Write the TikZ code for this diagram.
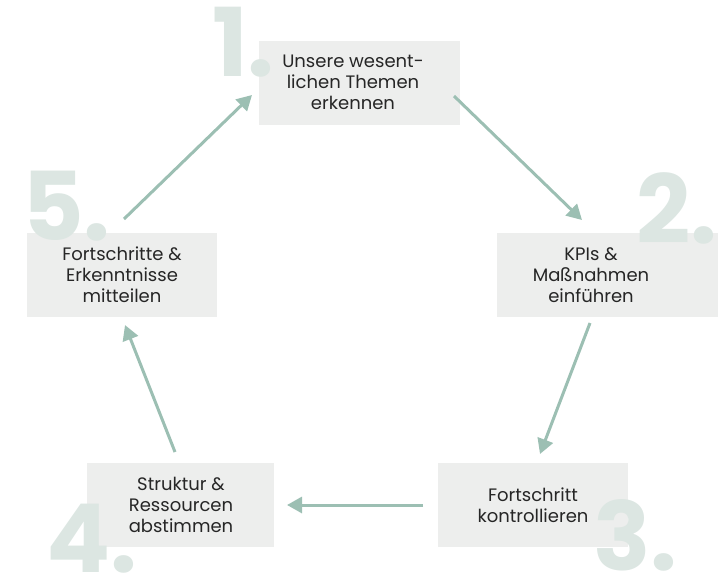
\documentclass[tikz,border=0pt]{standalone}
\usepackage{fontspec}
\setmainfont{Poppins}
\usetikzlibrary{arrows.meta}
\definecolor{kastengrau}{HTML}{EDEEED}
\definecolor{ziffergrau}{HTML}{DCE6E2}
\definecolor{salbei}{HTML}{9CBFB3}
\definecolor{schrift}{HTML}{262626}
\tikzset{
  kasten/.style={fill=kastengrau, inner sep=0pt, minimum height=84pt},
  ziffer/.style={anchor=base west, inner sep=0pt, text=ziffergrau,
    font=\fontsize{95}{95}\selectfont\bfseries},
  beschriftung/.style={align=center, text=schrift, inner sep=0pt,
    font=\fontsize{18}{21}\selectfont},
  pfeil/.style={salbei, line width=3pt, -{Triangle[length=15pt,width=16pt]}}
}
\begin{document}
\begin{tikzpicture}[x=1pt,y=-1pt]
        \useasboundingbox (0,0) rectangle (725,573);
        %Kästen
        \node[kasten, minimum width=201pt] (k1) at (359.5,82.5) {};
        \node[kasten, minimum width=221pt] (k2) at (607.5,274.5) {};
        \node[kasten, minimum width=190pt] (k3) at (533,505) {};
        \node[kasten, minimum width=187pt] (k4) at (180.5,505) {};
        \node[kasten, minimum width=190pt] (k5) at (122,275) {};
        %große Ziffern
        \node[ziffer] (z1) at (212,76) {1.};
        \node[ziffer] (z2) at (636,243) {2.};
        \node[ziffer] (z3) at (593,570) {3.};
        \node[ziffer] (z4) at (46,572) {4.};
        \node[ziffer] (z5) at (22,240) {5.};
        %Texte
        \node[beschriftung] (t1) at (353,82) {Unsere wesent-\\lichen Themen\\erkennen};
        \node[beschriftung] (t2) at (591,275) {KPIs \&\\Maßnahmen\\einführen};
        \node[beschriftung] (t3) at (533,505) {Fortschritt\\kontrollieren};
        \node[beschriftung] (t4) at (181,505) {Struktur \&\\Ressourcen\\abstimmen};
        \node[beschriftung] (t5) at (122,275) {Fortschritte \&\\Erkenntnisse\\mitteilen};
        %Pfeilenden
        \coordinate (a1) at (454,96);
        \coordinate (e1) at (582,220);
        \coordinate (a2) at (590,323);
        \coordinate (e2) at (540,454);
        \coordinate (a3) at (423,505);
        \coordinate (e3) at (287,505);
        \coordinate (a4) at (175,452);
        \coordinate (e4) at (125,325);
        \coordinate (a5) at (124,219);
        \coordinate (e5) at (252,95);
        %Pfeile
        \draw[pfeil] (a1) -- (e1);
        \draw[pfeil] (a2) -- (e2);
        \draw[pfeil] (a3) -- (e3);
        \draw[pfeil] (a4) -- (e4);
        \draw[pfeil] (a5) -- (e5);
\end{tikzpicture}
\end{document}
